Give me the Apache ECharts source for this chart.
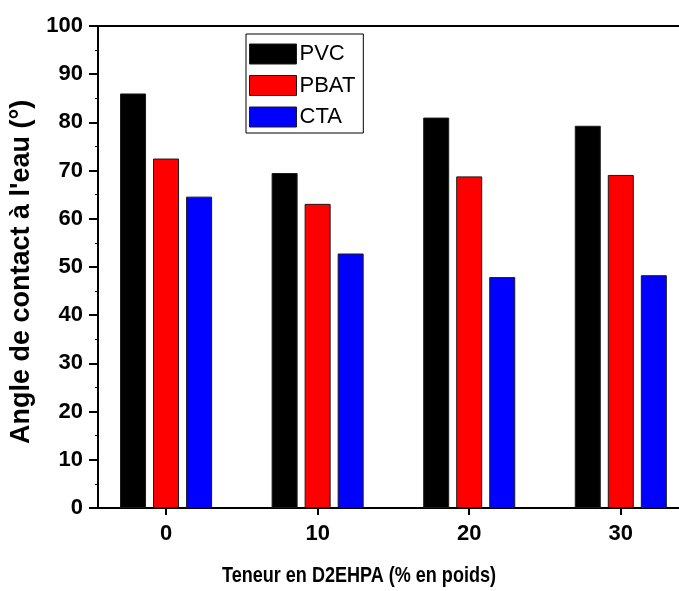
<!DOCTYPE html>
<html>
<head>
<meta charset="utf-8">
<script src="https://cdn.jsdelivr.net/npm/echarts@6/dist/echarts.min.js"></script>
<style>html,body{margin:0;padding:0;background:#fff;}#c{width:679px;height:591px;}</style>
</head>
<body>
<div id="c"></div>
<script>
const categories = [0, 10, 20, 30];
const seriesNames = ['PVC', 'PBAT', 'CTA'];
const pvc = [86.0, 69.5, 81.0, 79.3];
const pbat = [72.5, 63.1, 68.8, 69.1];
const cta = [64.6, 52.8, 47.9, 48.3];
const colors = ['#000000', '#ff0000', '#0000ff'];
const yTicks = [0, 10, 20, 30, 40, 50, 60, 70, 80, 90, 100];

const values = [pvc, pbat, cta];
const chart = echarts.init(document.getElementById('c'), null, {renderer: 'canvas'});
const font = 'Liberation Sans, Arial, sans-serif';
const xMin = -4.49, xMax = 33.84;

chart.setOption({
  animation: false,
  backgroundColor: '#fff',
  grid: {left: 98, top: 26, right: 0, height: 482, containLabel: false},
  xAxis: [{
    type: 'value', min: xMin, max: xMax, position: 'bottom',
    axisLine: {show: true, onZero: false, lineStyle: {color: '#000', width: 2}},
    axisTick: {show: true, inside: false, length: 7, customValues: categories, lineStyle: {color: '#000', width: 2}},
    splitLine: {show: false},
    axisLabel: {
      show: true, margin: 15, color: '#000', fontSize: 22, fontWeight: 'bold', fontFamily: font,
      customValues: categories, formatter: v => String(v)
    }
  }, {
    type: 'value', min: xMin, max: xMax, position: 'top',
    axisLine: {show: true, onZero: false, lineStyle: {color: '#000', width: 2}},
    axisTick: {show: false}, axisLabel: {show: false}, splitLine: {show: false}
  }],
  yAxis: {
    type: 'value', min: 0, max: 100, interval: 10,
    axisLine: {show: true, onZero: false, lineStyle: {color: '#000', width: 2}},
    axisTick: {show: true, inside: false, length: 9, lineStyle: {color: '#000', width: 2}},
    minorTick: {show: true, splitNumber: 2, length: 3, lineStyle: {color: '#000', width: 1}},
    splitLine: {show: false},
    axisLabel: {margin: 15, color: '#000', fontSize: 22, fontWeight: 'bold', fontFamily: font,
      formatter: v => yTicks.includes(v) ? String(v) : ''}
  },
  legend: {
    orient: 'vertical', left: 246, top: 34,
    itemWidth: 47, itemHeight: 20, itemGap: 9.5,
    padding: [9, 8, 5, 3],
    borderColor: '#000', borderWidth: 1,
    icon: 'rect',
    itemStyle: {borderColor: '#1a1a1a', borderWidth: 1},
    textStyle: {color: '#000', fontSize: 22, lineHeight: 20, fontFamily: font, padding: [0, 0, 0, -2]},
    data: seriesNames
  },
  graphic: [
    {type: 'text', left: 222, top: 565, scaleX: 0.82,
      style: {text: 'Teneur en D2EHPA (% en poids)', fill: '#000', font: 'bold 22px ' + font}},
    {type: 'text', x: 8, y: 444, rotation: Math.PI / 2,
      style: {text: "Angle de contact à l'eau (°)", fill: '#000', font: 'bold 27px ' + font}}
  ],
  series: seriesNames.map((name, i) => ({
    name: name, type: 'bar', xAxisIndex: 0,
    barWidth: 26, barGap: '27%',
    itemStyle: {color: colors[i], borderColor: '#1a1a1a', borderWidth: 1},
    data: categories.map((c, j) => [c, values[i][j]])
  }))
});
</script>
</body>
</html>
